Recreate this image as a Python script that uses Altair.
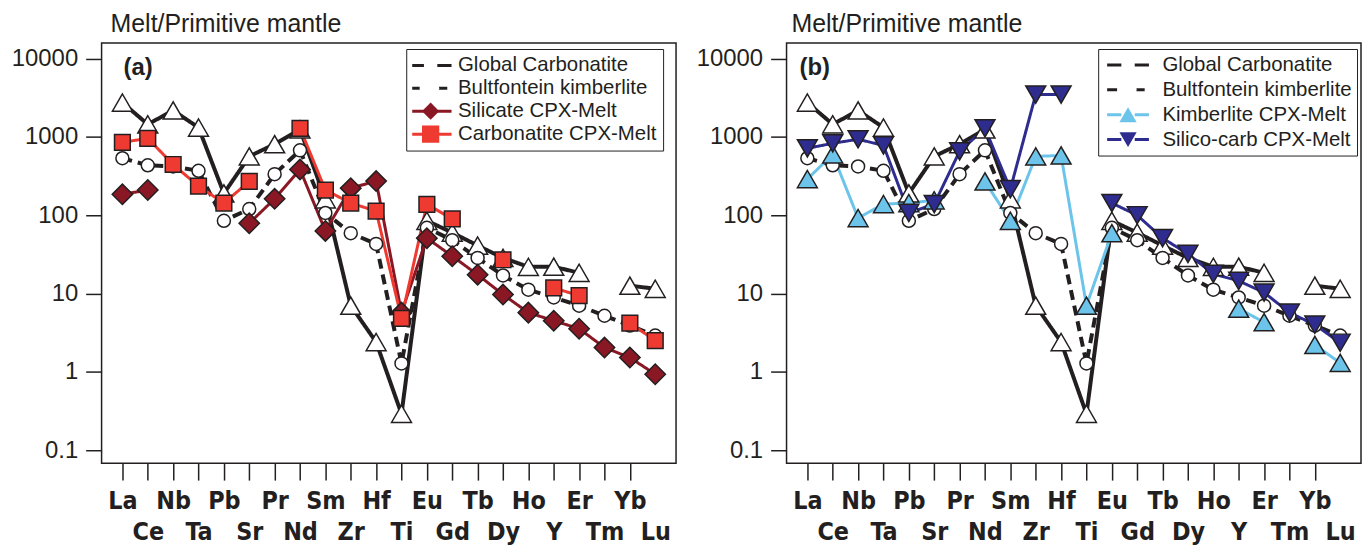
import json
import altair as alt
import pandas as pd

# ---------------- data ----------------
elements = ["La", "Ce", "Nb", "Ta", "Pb", "Sr", "Pr", "Nd", "Sm", "Zr", "Hf",
            "Ti", "Eu", "Gd", "Tb", "Dy", "Ho", "Y", "Er", "Tm", "Yb", "Lu"]

global_carbonatite = [2750, 1450, 2180, 1320, 190, 565, 810, 1250, 160, 7.0, 2.4,
                      0.29, 85, 60, 41, 28.5, 21.9, 22, 18.4, None, 12.6, 11.5]
bultfontein = [535, 435, 420, 370, 85, 120, 335, 675, 107, 59, 43,
               1.28, 69, 48, 28.5, 17, 11.2, 8.9, 7.0, 5.2, 3.9, 2.9]
silicate_cpx = [185, 210, None, None, None, 79, 162, 385, 63, 222, 273,
                5.7, 51, 30, 17.4, 9.7, 5.7, 4.5, 3.55, 2.04, 1.52, 0.93]
carbonatite_cpx = [855, 960, 445, 235, 143, 270, None, 1290, 210, 143, 113,
                   4.8, 138, 90, None, 27, None, 11.8, 9.4, None, 4.2, 2.5]
kimberlite_cpx = [290, 600, 92, 139, 143, 155, None, 270, 85, 565, 580,
                  7.0, 59, None, None, None, None, 6.4, 4.3, None, 2.2, 1.3]
silicocarb_cpx = [716, 830, 935, 780, 107, 139, 655, 1290, 215, 3480, 3480,
                  None, 143, 100, 51, 32, 17.8, 14.5, 10.3, 5.7, 4.0, 2.35]

y_ticks = [0.1, 1, 10, 100, 1000, 10000]

# ---------------- styles ----------------
INK = "#231f20"
FONT = "Liberation Sans"
XFONT = "DejaVu Sans Condensed, Liberation Sans"

STYLE = {
    "Global Carbonatite":     dict(line=INK, fill="white", shape="triangle-up", size=400, width=4.0, dash=[1, 0]),
    "Bultfontein kimberlite": dict(line=INK, fill="white", shape="circle", size=170, width=4.0, dash=[10, 6]),
    "Silicate CPX-Melt":      dict(line="#8a1824", fill="#8a1824", shape="diamond", size=420, width=3.0, dash=[1, 0]),
    "Carbonatite CPX-Melt":   dict(line="#ee3a31", fill="#ee3a31", shape="square", size=250, width=3.0, dash=[1, 0]),
    "Kimberlite CPX-Melt":    dict(line="#6cc4ea", fill="#6cc4ea", shape="triangle-up", size=400, width=3.0, dash=[1, 0]),
    "Silico-carb CPX-Melt":   dict(line="#2e2d8f", fill="#2e2d8f", shape="triangle-down", size=400, width=3.0, dash=[1, 0]),
}

label_expr = json.dumps(elements).replace('"', "'") + "[datum.value]"
MK = " m"   # marker-legend field values (own domain, so legends stay separate)
SK = " s"   # size field values (no legend)


def build_df(series):
    rows = []
    for name, vals in series:
        seg, prev_none = 0, True
        for i, v in enumerate(vals):
            if v is None:
                prev_none = True
                continue
            if prev_none:
                seg += 1
            prev_none = False
            rows.append({"series": name, "series_m": name + MK,
                         "series_s": name + SK, "i": i,
                         "value": v, "seg": f"{name}-{seg}"})
    return pd.DataFrame(rows)


def panel(series, letter, leg_x, leg_pad, clip_h, row_pad, sym_off, lab_off,
          title_dx, letter_x):
    names = [n for n, _ in series]
    mnames = [n + MK for n in names]
    snames = [n + SK for n in names]
    df = build_df(series)
    base = alt.Chart(df)

    x = alt.X("i:Q",
              scale=alt.Scale(domain=[-0.82, 21.82], nice=False, zero=False),
              axis=alt.Axis(values=list(range(len(elements))), labelExpr=label_expr,
                            title=None, grid=False, domain=False,
                            tickSize=17, tickWidth=1.5,
                            tickColor={"condition": {"test": "datum.value == 21", "value": "transparent"}, "value": INK},
                            labelPadding={"condition": {"test": "datum.value % 2 == 1", "value": 40}, "value": 9},
                            labelFont=XFONT, labelFontSize=25, labelFontWeight="bold",
                            labelColor=INK, labelAngle=0, labelOverlap=False,
                            labelFlush=False, labelBound=False))
    y = alt.Y("value:Q",
              scale=alt.Scale(type="log", domain=[0.068, 15850], nice=False),
              axis=alt.Axis(values=y_ticks, format="~g", title=None, grid=False,
                            domain=False, tickSize=16, tickWidth=1.5, tickColor=INK,
                            labelPadding=8, labelFont=FONT, labelFontSize=24,
                            labelColor=INK))

    leg_line = alt.Legend(orient="none", legendX=leg_x, legendY=6, title=None,
                          symbolType="M-1,0H-0.32M0.32,0H1", symbolSize=1764,
                          symbolStrokeWidth=3,
                          symbolOffset=sym_off, clipHeight=clip_h, rowPadding=row_pad,
                          padding=leg_pad, strokeColor=INK,
                          labelFont=FONT, labelFontSize=20.5, labelColor=INK,
                          labelOffset=lab_off, labelLimit=400)
    line_center = leg_pad + 22.5 + sym_off
    leg_mark = alt.Legend(orient="none", legendX=leg_x + line_center - 9.5,
                          legendY=6 + leg_pad, title=None, symbolSize=300,
                          symbolStrokeColor=INK, symbolStrokeWidth=1.5,
                          symbolOpacity=1, clipHeight=clip_h, rowPadding=row_pad,
                          padding=0, labelFontSize=10, labelExpr="''")

    lines = base.mark_line().encode(
        x=x, y=y,
        stroke=alt.Stroke("series:N", scale=alt.Scale(domain=names, range=[STYLE[n]["line"] for n in names]), legend=leg_line),
        strokeDash=alt.StrokeDash("series:N", scale=alt.Scale(domain=names, range=[STYLE[n]["dash"] for n in names]), legend=leg_line),
        strokeWidth=alt.StrokeWidth("series_s:N", scale=alt.Scale(type="ordinal", domain=snames, range=[STYLE[n]["width"] for n in names]), legend=None),
        detail="seg:N",
    )
    points = base.mark_point(filled=True, stroke=INK, strokeWidth=1.5, opacity=1).encode(
        x=x, y=y,
        shape=alt.Shape("series_m:N", scale=alt.Scale(domain=mnames, range=[STYLE[n]["shape"] for n in names]), legend=leg_mark),
        fill=alt.Fill("series_m:N", scale=alt.Scale(domain=mnames, range=[STYLE[n]["fill"] for n in names]), legend=leg_mark),
        size=alt.Size("series_s:N", scale=alt.Scale(type="ordinal", domain=snames, range=[STYLE[n]["size"] for n in names]), legend=None),
    )
    tag = alt.Chart(pd.DataFrame({"t": [letter]})).mark_text(
        align="left", baseline="alphabetic", font=FONT, fontSize=24,
        fontWeight="bold", color=INK
    ).encode(text="t:N", x=alt.value(letter_x), y=alt.value(32))

    return alt.layer(lines, points, tag).properties(
        width=577, height=422,
        title=alt.TitleParams("Melt/Primitive mantle", anchor="start", frame="group",
                              font=FONT, fontSize=25, fontWeight="normal",
                              color=INK, offset=6, dx=title_dx),
    )


pa = panel([("Global Carbonatite", global_carbonatite),
            ("Bultfontein kimberlite", bultfontein),
            ("Silicate CPX-Melt", silicate_cpx),
            ("Carbonatite CPX-Melt", carbonatite_cpx)],
           "(a)", leg_x=306, leg_pad=6, clip_h=21, row_pad=2, sym_off=-4,
           lab_off=5, title_dx=9, letter_x=22)
pb = panel([("Global Carbonatite", global_carbonatite),
            ("Bultfontein kimberlite", bultfontein),
            ("Kimberlite CPX-Melt", kimberlite_cpx),
            ("Silico-carb CPX-Melt", silicocarb_cpx)],
           "(b)", leg_x=313, leg_pad=5, clip_h=22, row_pad=3, sym_off=2.5,
           lab_off=12, title_dx=5, letter_x=13)

chart = alt.hconcat(pa, pb, spacing=18).resolve_scale(
    stroke="independent", strokeDash="independent", strokeWidth="independent",
    shape="independent", fill="independent", size="independent"
).properties(
    padding={"left": 2, "top": 2, "right": 0, "bottom": 0}
).configure_view(
    stroke=INK, strokeWidth=1.5
)

chart.save("out.html", embed_options={"renderer": "svg", "actions": False})
